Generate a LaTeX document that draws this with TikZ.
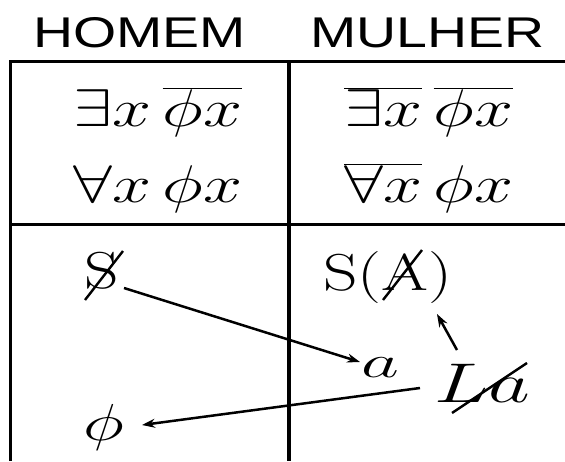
\RequirePackage{fix-cm}
\documentclass[tikz,border=0pt]{standalone}
\usepackage{fontspec}
\usepackage{graphicx}
\newfontfamily\hdrfont{Liberation Sans}
\usetikzlibrary{arrows.meta,calc}
\begin{document}
\begin{tikzpicture}[x=1pt,y=-1pt,
  gridline/.style={line width=3pt},
  mth/.style={inner sep=0pt,anchor=base west,font=\fontsize{53}{60}\selectfont},
  low/.style={inner sep=0pt,anchor=base west,font=\fontsize{52}{60}\selectfont},
  hd/.style={inner sep=0pt,anchor=base west,font=\hdrfont\fontsize{43}{48}\selectfont},
  arr/.style={line width=2.5pt,-{Stealth[length=13pt,width=9pt]}},
  slashline/.style={line width=2.4pt}]
\useasboundingbox (0,0) rectangle (565,461);
% headers
\node[hd] (hom) at (33,47) {\scalebox{1.29}[1]{HOMEM}};
\node[hd] (mul) at (310,47) {\scalebox{1.29}[1]{MULHER}};
% grid
\draw[gridline] (10,461) -- (10,61) -- (565,61);
\draw[gridline] (10,224) -- (565,224);
\draw[line width=4pt] (289,61) -- (289,461);
% top cells
\node[mth] (r1l) at (73,126) {\scalebox{1.32}[1]{$\exists x\,\overline{\phi x}$}};
\node[mth] (r2l) at (73,202) {\scalebox{1.32}[1]{$\forall x\,\phi x$}};
\node[mth] (r1r) at (344,126) {\scalebox{1.32}[1]{$\overline{\exists x}\,\overline{\phi x}$}};
\node[mth] (r2r) at (344,202) {\scalebox{1.32}[1]{$\overline{\forall x}\,\phi x$}};
% bottom cells
\node[low] (S) at (84,288) {\scalebox{1.3}[1]{S}};
\node[low] (SA) at (323,290) {\scalebox{1.3}[1]{S(A)}};
\node[low,font=\fontsize{46}{52}\selectfont] (a) at (361,377) {\scalebox{1.6}[1]{$a$}};
\node[low,font=\fontsize{56}{60}\selectfont] (La) at (434,402) {\scalebox{1.45}[1]{$L a$}};
\node[low] (phi) at (83,440) {\scalebox{1.35}[1]{$\phi$}};
% slashes
\draw[slashline] (85,300) -- (123,251);
\draw[slashline] (383,300) -- (422,250);
\draw[slashline] (452,413) -- (527,363);
% arrows
\draw[arr] ($(S.base west)+(40,0)$) -- ($(a.base west)+(-1,-15)$);
\draw[arr] ($(La.base west)+(-14,-14)$) -- ($(phi.base west)+(59,-15)$);
\draw[arr] ($(La.base west)+(23,-52)$) -- ($(SA.base west)+(114,24)$);
\end{tikzpicture}
\end{document}
